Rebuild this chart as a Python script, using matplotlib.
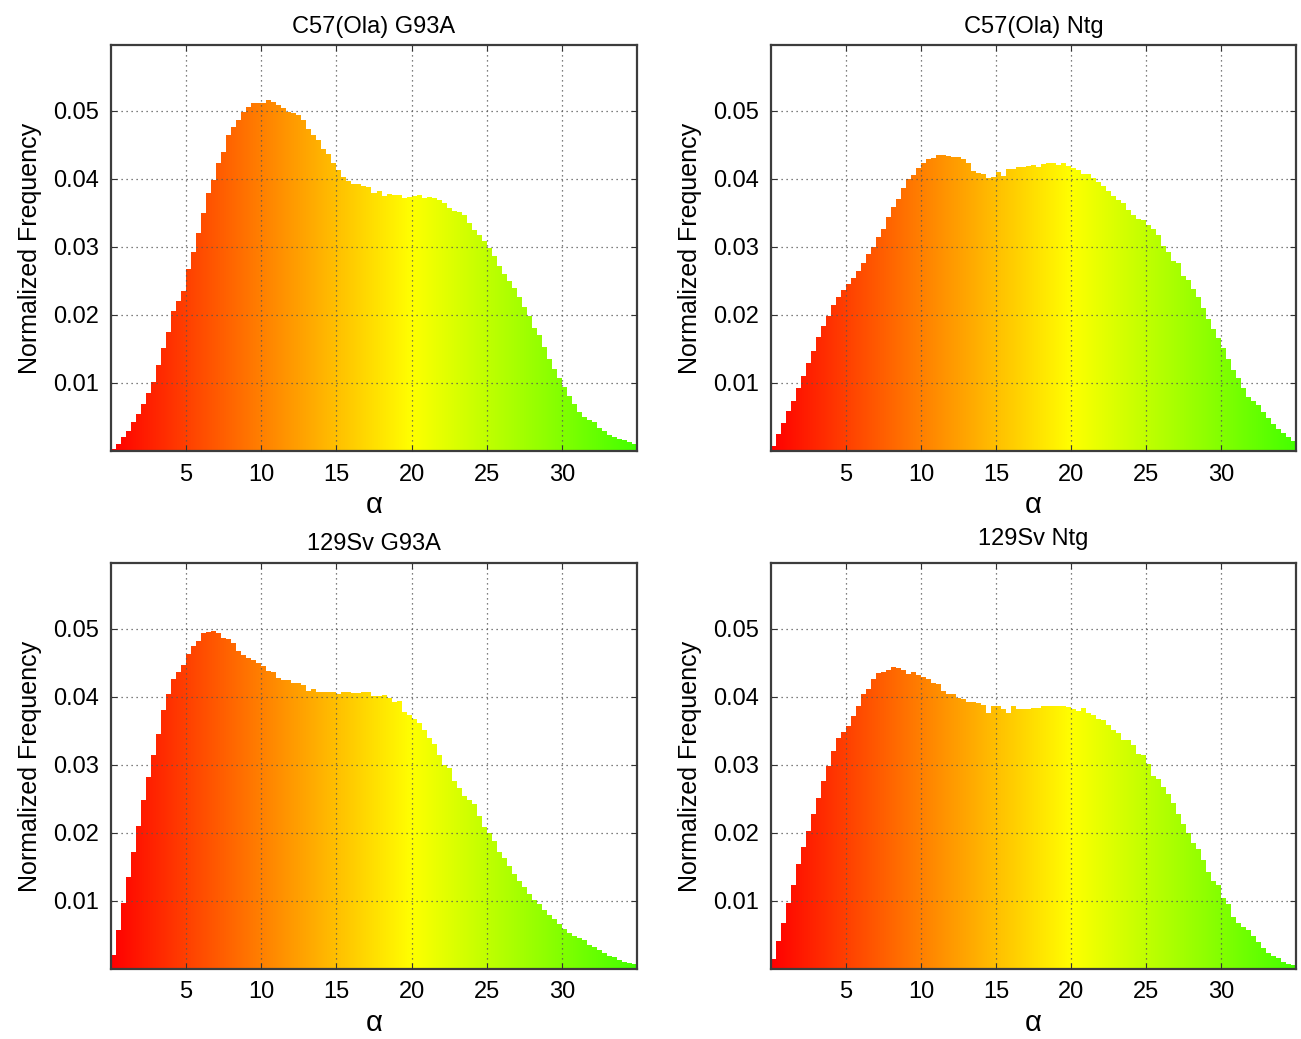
import numpy as np
import matplotlib
matplotlib.use("Agg")
import matplotlib.pyplot as plt
from matplotlib.colors import LinearSegmentedColormap

plt.rcParams['font.family'] = ['Liberation Sans', 'DejaVu Sans']

# histogram bins: width 1/3 over alpha 0..35 (105 bins)
edges = np.linspace(0, 35, 106)

titles = ["C57(Ola) G93A", "C57(Ola) Ntg", "129Sv G93A", "129Sv Ntg"]

c57_g93a = [
    0.0003, 0.0010, 0.0020, 0.0030, 0.0043, 0.0054, 0.0069, 0.0085, 0.0102, 0.0126,
    0.0151, 0.0175, 0.0206, 0.0220, 0.0235, 0.0267, 0.0293, 0.0320, 0.0350, 0.0379,
    0.0399, 0.0424, 0.0440, 0.0464, 0.0476, 0.0486, 0.0499, 0.0506, 0.0511, 0.0512,
    0.0512, 0.0516, 0.0513, 0.0509, 0.0505, 0.0499, 0.0497, 0.0494, 0.0486, 0.0473,
    0.0465, 0.0457, 0.0444, 0.0437, 0.0424, 0.0413, 0.0403, 0.0397, 0.0393, 0.0393,
    0.0389, 0.0388, 0.0380, 0.0383, 0.0375, 0.0378, 0.0377, 0.0377, 0.0372, 0.0374,
    0.0375, 0.0376, 0.0372, 0.0373, 0.0372, 0.0369, 0.0365, 0.0357, 0.0353, 0.0352,
    0.0347, 0.0335, 0.0325, 0.0318, 0.0309, 0.0298, 0.0287, 0.0272, 0.0260, 0.0250,
    0.0240, 0.0226, 0.0212, 0.0198, 0.0181, 0.0170, 0.0153, 0.0135, 0.0121, 0.0107,
    0.0094, 0.0081, 0.0069, 0.0058, 0.0050, 0.0046, 0.0042, 0.0034, 0.0029, 0.0023,
    0.0020, 0.0017, 0.0016, 0.0013, 0.0010,
]

c57_ntg = [
    0.0008, 0.0025, 0.0041, 0.0059, 0.0074, 0.0092, 0.0110, 0.0129, 0.0147, 0.0167,
    0.0184, 0.0199, 0.0214, 0.0226, 0.0237, 0.0246, 0.0254, 0.0264, 0.0276, 0.0289,
    0.0300, 0.0314, 0.0327, 0.0344, 0.0359, 0.0371, 0.0387, 0.0400, 0.0406, 0.0416,
    0.0423, 0.0429, 0.0431, 0.0435, 0.0435, 0.0434, 0.0433, 0.0432, 0.0430, 0.0424,
    0.0412, 0.0409, 0.0407, 0.0401, 0.0403, 0.0410, 0.0405, 0.0415, 0.0414, 0.0417,
    0.0418, 0.0419, 0.0420, 0.0418, 0.0422, 0.0424, 0.0423, 0.0421, 0.0424, 0.0419,
    0.0416, 0.0413, 0.0408, 0.0408, 0.0401, 0.0396, 0.0390, 0.0383, 0.0375, 0.0369,
    0.0364, 0.0355, 0.0347, 0.0341, 0.0339, 0.0333, 0.0326, 0.0318, 0.0302, 0.0292,
    0.0280, 0.0276, 0.0258, 0.0251, 0.0238, 0.0226, 0.0210, 0.0194, 0.0180, 0.0166,
    0.0151, 0.0135, 0.0119, 0.0107, 0.0093, 0.0080, 0.0073, 0.0067, 0.0057, 0.0048,
    0.0039, 0.0032, 0.0026, 0.0021, 0.0015,
]

sv_g93a = [
    0.0020, 0.0057, 0.0097, 0.0136, 0.0172, 0.0210, 0.0249, 0.0282, 0.0314, 0.0346,
    0.0381, 0.0404, 0.0426, 0.0436, 0.0447, 0.0463, 0.0475, 0.0483, 0.0494, 0.0496,
    0.0497, 0.0494, 0.0487, 0.0485, 0.0480, 0.0467, 0.0461, 0.0457, 0.0455, 0.0450,
    0.0445, 0.0438, 0.0436, 0.0428, 0.0425, 0.0425, 0.0421, 0.0420, 0.0418, 0.0409,
    0.0412, 0.0407, 0.0408, 0.0407, 0.0408, 0.0405, 0.0407, 0.0408, 0.0406, 0.0406,
    0.0407, 0.0407, 0.0401, 0.0402, 0.0403, 0.0399, 0.0392, 0.0394, 0.0378, 0.0374,
    0.0367, 0.0362, 0.0352, 0.0339, 0.0331, 0.0315, 0.0300, 0.0295, 0.0276, 0.0266,
    0.0255, 0.0248, 0.0242, 0.0225, 0.0209, 0.0200, 0.0188, 0.0172, 0.0163, 0.0151,
    0.0139, 0.0130, 0.0120, 0.0111, 0.0101, 0.0095, 0.0087, 0.0080, 0.0073, 0.0066,
    0.0059, 0.0053, 0.0048, 0.0045, 0.0042, 0.0035, 0.0032, 0.0028, 0.0024, 0.0019,
    0.0017, 0.0013, 0.0011, 0.0009, 0.0007,
]

sv_ntg = [
    0.0015, 0.0041, 0.0068, 0.0097, 0.0124, 0.0154, 0.0180, 0.0203, 0.0228, 0.0251,
    0.0277, 0.0299, 0.0321, 0.0340, 0.0348, 0.0358, 0.0372, 0.0386, 0.0404, 0.0412,
    0.0427, 0.0435, 0.0436, 0.0440, 0.0444, 0.0443, 0.0439, 0.0434, 0.0436, 0.0433,
    0.0430, 0.0426, 0.0421, 0.0419, 0.0409, 0.0405, 0.0404, 0.0398, 0.0397, 0.0393,
    0.0392, 0.0391, 0.0388, 0.0377, 0.0387, 0.0386, 0.0383, 0.0377, 0.0387, 0.0382,
    0.0382, 0.0383, 0.0384, 0.0384, 0.0386, 0.0387, 0.0387, 0.0386, 0.0386, 0.0385,
    0.0382, 0.0380, 0.0384, 0.0377, 0.0374, 0.0368, 0.0366, 0.0359, 0.0352, 0.0347,
    0.0336, 0.0336, 0.0330, 0.0316, 0.0315, 0.0301, 0.0284, 0.0279, 0.0267, 0.0257,
    0.0244, 0.0228, 0.0213, 0.0200, 0.0185, 0.0176, 0.0161, 0.0143, 0.0130, 0.0123,
    0.0104, 0.0095, 0.0077, 0.0068, 0.0062, 0.0057, 0.0049, 0.0039, 0.0031, 0.0023,
    0.0019, 0.0016, 0.0011, 0.0008, 0.0006,
]

series = [c57_g93a, c57_ntg, sv_g93a, sv_ntg]

xticks = [5, 10, 15, 20, 25, 30]
yticks = [0.01, 0.02, 0.03, 0.04, 0.05]

cmap = LinearSegmentedColormap.from_list(
    "ryg", [(0, "#ff0000"), (10/35, "#ff8000"), (20/35, "#ffff00"), (1, "#44ff00")])

fig = plt.figure(figsize=(13.01, 10.39), dpi=100)
W, H = 1301, 1039
boxes = [(111, 45, 637, 451), (771, 45, 1296, 451),
         (111, 563, 637, 969), (771, 563, 1296, 969)]

grad = np.linspace(0, 1, 512).reshape(1, -1)

for k, (l, t, r, b) in enumerate(boxes):
    ax = fig.add_axes([l / W, 1 - b / H, (r - l) / W, (b - t) / H])
    vals = np.array(series[k])
    step = ax.stairs(vals, edges, fill=True, facecolor="none", edgecolor="none")
    im = ax.imshow(grad, cmap=cmap, aspect="auto", extent=[0, 35, 0, 0.06],
                   origin="lower", zorder=0, interpolation="bilinear")
    im.set_clip_path(step)
    ax.set_xlim(0, 35)
    ax.set_ylim(0, 0.0597)
    ax.set_xticks(xticks)
    ax.set_yticks(yticks)
    ax.set_yticklabels([f"{v:.2f}" for v in yticks])
    ax.grid(True, linestyle=(0, (1, 3)), color="#555555", linewidth=0.9)
    ax.set_axisbelow(False)
    ax.tick_params(direction="in", top=True, right=True, length=4,
                   labelsize=17, color="#333333", pad=9)
    for s in ax.spines.values():
        s.set_color("#3c3c3c")
        s.set_linewidth(1.6)
    ax.set_xlabel("α", fontsize=21, labelpad=4)
    ax.set_ylabel("Normalized Frequency", fontsize=18, labelpad=8)
    ax.set_title(titles[k], fontsize=17, pad=9 if k != 3 else 13)

fig.savefig("out.png", dpi=100, facecolor="white")
